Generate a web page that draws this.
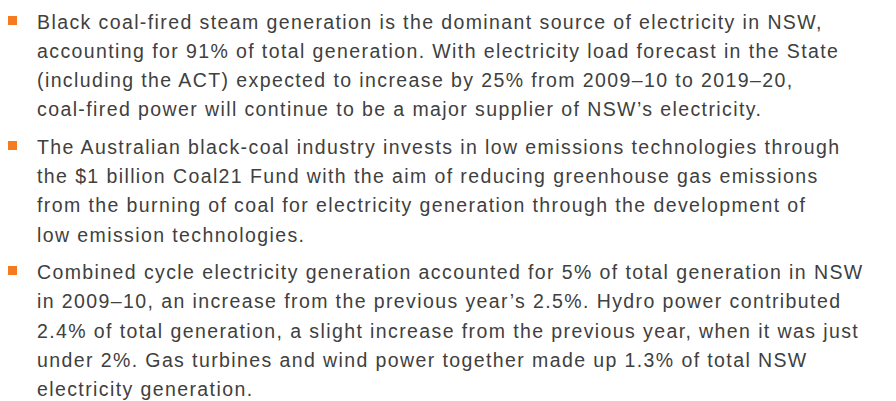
<!DOCTYPE html>
<html>
<head>
<meta charset="utf-8">
<script src="https://cdn.jsdelivr.net/npm/chart.js@4"></script>
<style>
  html, body { margin: 0; padding: 0; background: #fff; }
  body { width: 896px; height: 401px; overflow: hidden; position: relative;
         font-family: "Liberation Sans", Arial, sans-serif; color: #404040; }
  .bullet { position: absolute; left: 8px; width: 9px; height: 9px; background: #f47b20; }
  .line { position: absolute; left: 37px; white-space: nowrap; font-size: 19.5px;
          letter-spacing: 1.4px; line-height: 20px; }
</style>
</head>
<body>
<script>
// text of the three bullet points, already broken into lines as in the picture
const paragraphs = [
  [
    'Black coal-fired steam generation is the dominant source of electricity in NSW,',
    'accounting for 91% of total generation. With electricity load forecast in the State',
    '(including the ACT) expected to increase by 25% from 2009\u201310 to 2019\u201320,',
    'coal-fired power will continue to be a major supplier of NSW\u2019s electricity.'
  ],
  [
    'The Australian black-coal industry invests in low emissions technologies through',
    'the $1 billion Coal21 Fund with the aim of reducing greenhouse gas emissions',
    'from the burning of coal for electricity generation through the development of',
    'low emission technologies.'
  ],
  [
    'Combined cycle electricity generation accounted for 5% of total generation in NSW',
    'in 2009\u201310, an increase from the previous year\u2019s 2.5%. Hydro power contributed',
    '2.4% of total generation, a slight increase from the previous year, when it was just',
    'under 2%. Gas turbines and wind power together made up 1.3% of total NSW',
    'electricity generation.'
  ]
];

const lineStep = 29.3;
const paraGap = 8;
let y = 11.5;
paragraphs.forEach(lines => {
  const b = document.createElement('div');
  b.className = 'bullet';
  b.style.top = (y + 4) + 'px';
  document.body.appendChild(b);
  lines.forEach((txt, i) => {
    const d = document.createElement('div');
    d.className = 'line';
    d.style.top = (y + i * lineStep) + 'px';
    d.textContent = txt;
    document.body.appendChild(d);
  });
  y += lines.length * lineStep + paraGap;
});
</script>
</body>
</html>
